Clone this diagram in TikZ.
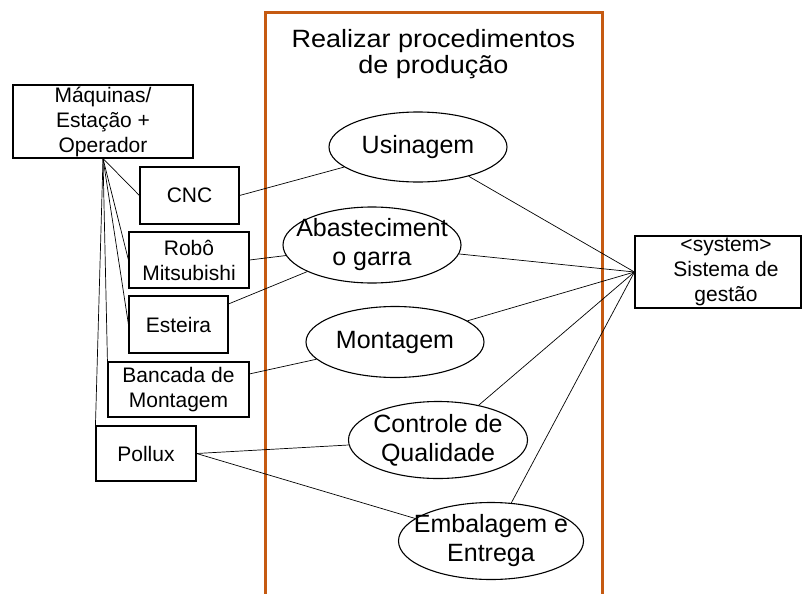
\documentclass[tikz,border=0pt]{standalone}
\usepackage{fontspec}
\setmainfont{Liberation Sans}
\usetikzlibrary{shapes.geometric}
\definecolor{frameorange}{RGB}{197,90,17}
\begin{document}
\begin{tikzpicture}[x=1pt,y=-1pt,
  actor/.style={draw=black, line width=1.1pt, fill=white, rectangle, inner sep=0pt},
  usecase/.style={draw=black, line width=1.1pt, fill=white, ellipse, inner sep=0pt},
  boxtext/.style={font=\fontsize{21}{25}\selectfont, align=center, inner sep=0pt},
  uctext/.style={font=\fontsize{25}{29}\selectfont, align=center, inner sep=0pt},
  titletext/.style={font=\fontsize{25}{26}\selectfont, align=center, inner sep=0pt},
  link/.style={draw=black, line width=0.7pt}]
\useasboundingbox (0,0) rectangle (803,594);
\fill[white] (0,0) rectangle (803,594);

% system boundary, open at the bottom
\draw[frameorange, line width=3pt] (265,594) -- (265,13) -- (602,13) -- (602,594);
\node[titletext, xscale=1.08, transform shape] (title) at (433.5,53.7) {Realizar procedimentos\\de produção};

% actors
\node[actor, minimum width=180pt, minimum height=73pt,
      label={[boxtext]center:Máquinas/\\Estação +\\Operador}] (maq) at (103,121.5) {};
\node[actor, minimum width=99pt, minimum height=57pt,
      label={[boxtext]center:CNC}] (cnc) at (189.5,195.5) {};
\node[actor, minimum width=120pt, minimum height=56pt,
      label={[boxtext]center:Robô\\Mitsubishi}] (robo) at (189,260) {};
\node[actor, minimum width=99pt, minimum height=57pt,
      label={[boxtext]center:Esteira}] (est) at (178.5,324.5) {};
\node[actor, minimum width=141pt, minimum height=55pt,
      label={[boxtext]center:Bancada de\\Montagem}] (banc) at (178.5,389.5) {};
\node[actor, minimum width=100pt, minimum height=55pt,
      label={[boxtext]center:Pollux}] (pol) at (146,453.5) {};
\node[actor, minimum width=166pt, minimum height=72pt,
      label={[boxtext, xshift=8pt]center:<system>\\Sistema de\\gestão}] (sis) at (718,272) {};

% use cases
\node[usecase, minimum width=178pt, minimum height=70pt,
      label={[uctext]center:Usinagem}] (usi) at (418,147) {};
\node[usecase, minimum width=178pt, minimum height=76pt,
      label={[uctext]center:Abasteciment\\o garra}] (aba) at (372,245) {};
\node[usecase, minimum width=178pt, minimum height=71pt,
      label={[uctext]center:Montagem}] (mon) at (395,342) {};
\node[usecase, minimum width=179pt, minimum height=77pt,
      label={[uctext]center:Controle de\\Qualidade}] (con) at (438,440) {};
\node[usecase, minimum width=185pt, minimum height=77pt,
      label={[uctext]center:Embalagem e\\Entrega}] (emb) at (491,541) {};

% generalisation of the workstation actor
\draw[link] (maq.south) -- (cnc.west);
\draw[link] (maq.south) -- (robo.west);
\draw[link] (maq.south) -- (est.west);
\draw[link] (maq.south) -- (banc.north west);
\draw[link] (maq.south) -- (pol.north west);

% actor associations
\draw[link] (cnc.east) -- (usi);
\draw[link] (robo.east) -- (aba);
\draw[link] (est) -- (aba);
\draw[link] (banc) -- (mon);
\draw[link] (pol.east) -- (con);
\draw[link] (pol.east) -- (emb);

% management system associations
\draw[link] (sis.west) -- (usi);
\draw[link] (sis.west) -- (aba);
\draw[link] (sis.west) -- (mon);
\draw[link] (sis.west) -- (con);
\draw[link] (sis.west) -- (emb);
\end{tikzpicture}
\end{document}
